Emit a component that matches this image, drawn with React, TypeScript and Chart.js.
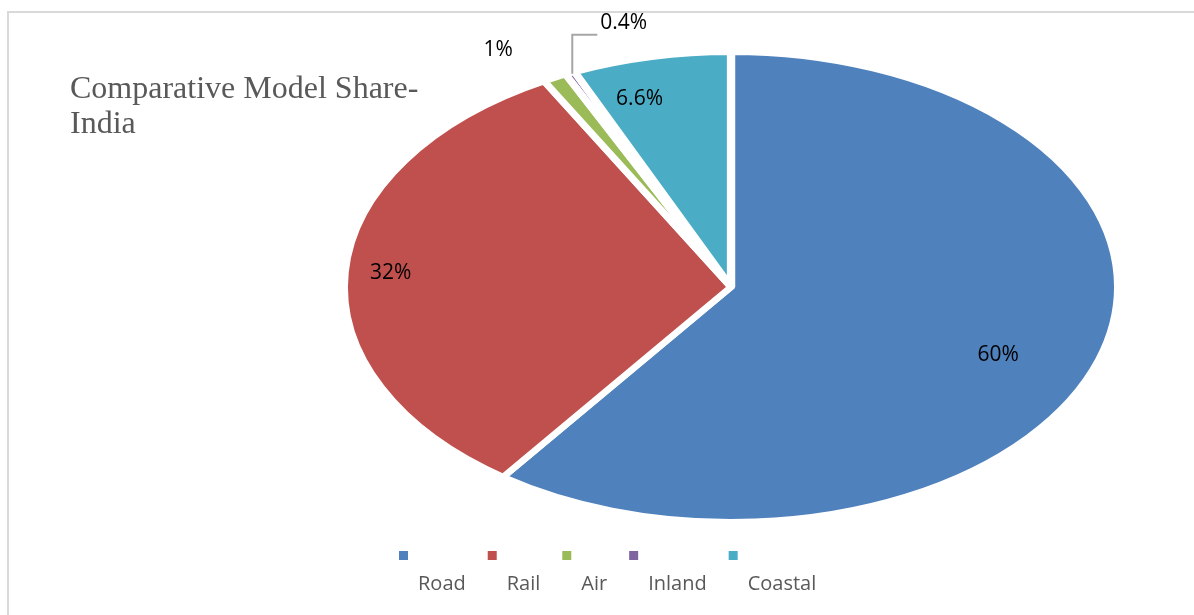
import React, { useEffect, useRef } from "react";
import { Chart, registerables } from "chart.js";

Chart.register(...registerables);

// ---- data ----
const categories = ["Road", "Rail", "Air", "Inland", "Coastal"];
const shares = [60, 32, 1, 0.4, 6.6];
const valueLabels = ["60%", "32%", "1%", "0.4%", "6.6%"];
const sliceColors = ["#4F81BD", "#C0504D", "#9BBB59", "#8064A2", "#4BACC6"];
const titleLines = ["Comparative Model Share-", "India"];

// ---- style ----
const W = 1194;
const H = 615;
const ELLIPSE_RATIO = 1.651;
const BORDER = 5;
const labelRadius = [0.75, 0.89, 1, 1, 0.83];
const labelShift: [number, number][] = [
  [-6, 14],
  [0, -1],
  [-59, -30],
  [0, 0],
  [-26, 0],
];
const leaderIndex = 3;

const ellipsePlugin = {
  id: "ellipse",
  beforeDatasetsDraw(chart: any) {
    const arc = chart.getDatasetMeta(0).data[0];
    if (!arc) return;
    const ctx = chart.ctx;
    ctx.save();
    ctx.translate(arc.x, arc.y);
    ctx.scale(ELLIPSE_RATIO, 1);
    ctx.translate(-arc.x, -arc.y);
  },
  afterDatasetsDraw(chart: any) {
    chart.ctx.restore();
  },
};

const decorPlugin = {
  id: "decor",
  beforeDraw(chart: any) {
    const ctx = chart.ctx;
    ctx.save();
    ctx.fillStyle = "#ffffff";
    ctx.fillRect(0, 0, W, H);
    ctx.strokeStyle = "#d9d9d9";
    ctx.lineWidth = 2;
    ctx.beginPath();
    ctx.moveTo(8, H);
    ctx.lineTo(8, 12);
    ctx.lineTo(W, 12);
    ctx.stroke();
    // title
    ctx.fillStyle = "#595959";
    ctx.font = '32px "Liberation Serif", "Times New Roman", serif';
    ctx.textAlign = "left";
    ctx.textBaseline = "alphabetic";
    titleLines.forEach((t, i) => ctx.fillText(t, 70, 98 + i * 35));
    ctx.restore();
  },
  afterDraw(chart: any) {
    const ctx = chart.ctx;
    const meta = chart.getDatasetMeta(0);
    ctx.save();
    // value labels
    ctx.font = '21px "Open Sans", sans-serif';
    ctx.fillStyle = "#000000";
    meta.data.forEach((arc: any, i: number) => {
      const mid = (arc.startAngle + arc.endAngle) / 2;
      const rv = arc.outerRadius - BORDER / 2;
      const ax = arc.x + Math.cos(mid) * rv * labelRadius[i] * ELLIPSE_RATIO;
      const ay = arc.y + Math.sin(mid) * rv * labelRadius[i];
      if (i === leaderIndex) {
        ctx.strokeStyle = "#a6a6a6";
        ctx.lineWidth = 2;
        ctx.beginPath();
        ctx.moveTo(ax, ay - 2);
        ctx.lineTo(ax, ay - 41);
        ctx.lineTo(ax + 25, ay - 41);
        ctx.stroke();
        ctx.textAlign = "left";
        ctx.textBaseline = "middle";
        ctx.fillText(valueLabels[i], ax + 28, ay - 53);
      } else {
        ctx.textAlign = "center";
        ctx.textBaseline = "middle";
        ctx.fillText(valueLabels[i], ax + labelShift[i][0], ay + labelShift[i][1]);
      }
    });
    // legend
    ctx.font = '20px "Open Sans", sans-serif';
    ctx.textAlign = "left";
    ctx.textBaseline = "alphabetic";
    let x = 399;
    categories.forEach((c, i) => {
      ctx.fillStyle = sliceColors[i];
      ctx.fillRect(x, 551, 9, 9);
      ctx.fillStyle = "#595959";
      const tx = x + 19;
      ctx.fillText(c, tx, 590);
      x = tx + ctx.measureText(c).width + 22;
    });
    ctx.restore();
  },
};

export default function App() {
  const ref = useRef<HTMLCanvasElement | null>(null);
  useEffect(() => {
    if (!ref.current) return;
    const chart = new Chart(ref.current, {
      type: "pie",
      data: {
        labels: categories,
        datasets: [
          {
            data: shares,
            backgroundColor: sliceColors,
            borderColor: "#ffffff",
            borderWidth: BORDER,
            clip: false,
          } as any,
        ],
      },
      options: {
        responsive: false,
        animation: false,
        events: [],
        layout: { padding: { left: 494, right: 226, top: 50, bottom: 91 } },
        plugins: {
          legend: { display: false },
          tooltip: { enabled: false },
          title: { display: false },
        },
      },
      plugins: [decorPlugin, ellipsePlugin],
    });
    return () => chart.destroy();
  }, []);
  return (
    <canvas
      ref={ref}
      width={W}
      height={H}
      style={{ position: "fixed", left: 0, top: 0, width: W, height: H }}
    />
  );
}
